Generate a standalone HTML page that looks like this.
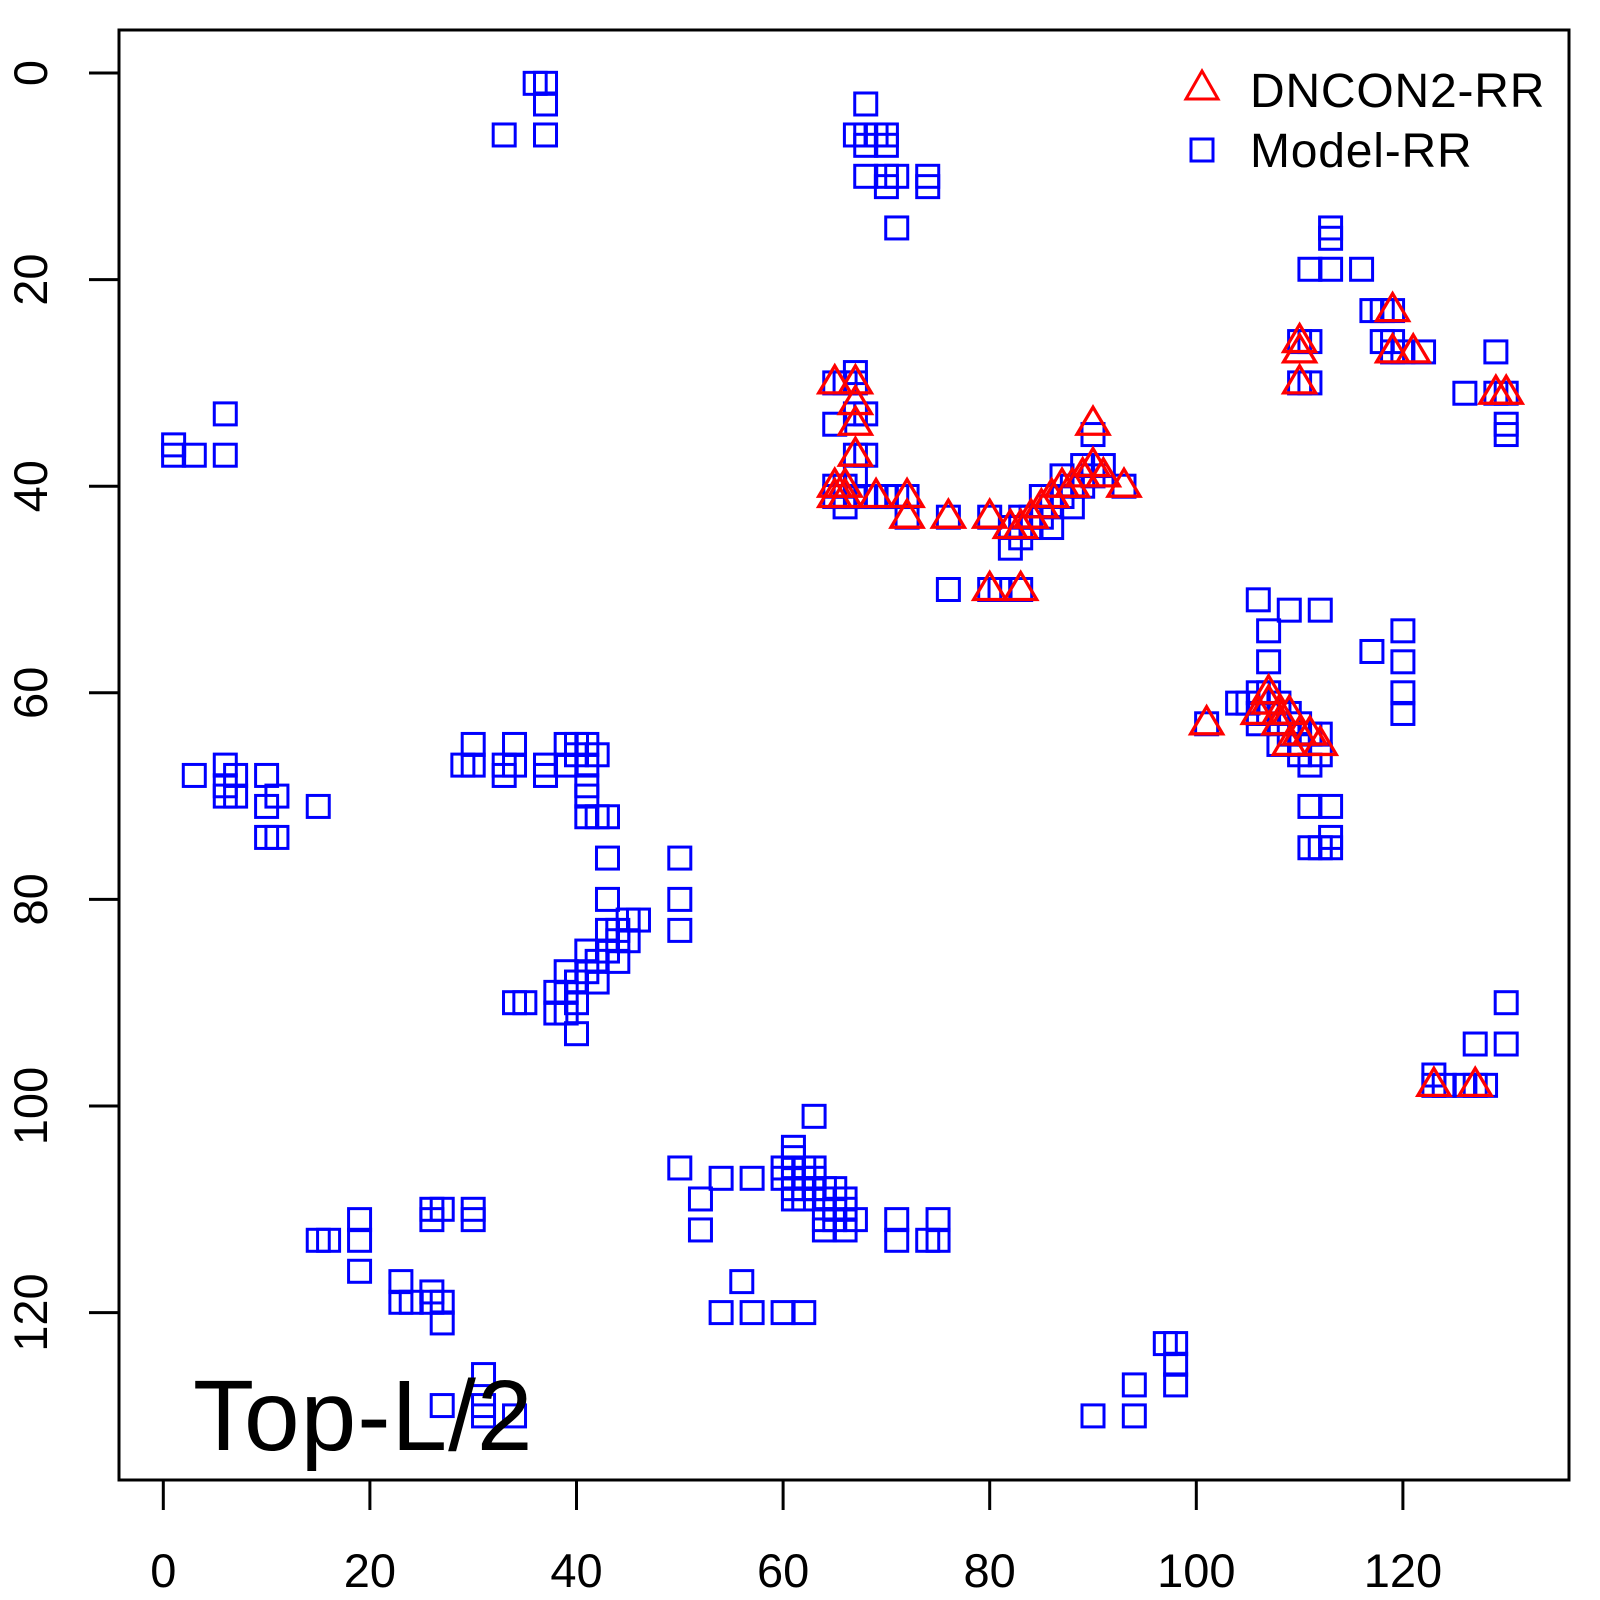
<!DOCTYPE html>
<html><head><style>body{margin:0;background:#fff}svg{display:block}</style></head>
<body>
<svg id="s" width="1600" height="1600" xmlns="http://www.w3.org/2000/svg" font-family="Liberation Sans, sans-serif">
<rect width="1600" height="1600" fill="#fff"/>
<rect x="119" y="30" width="1450" height="1450" fill="none" stroke="#000" stroke-width="3"/>
<g id="ax" stroke="#000" stroke-width="3"></g>
<g id="lab" font-size="47" fill="#000"></g>
<g id="sq" fill="none" stroke="#0000ff" stroke-width="3"></g>
<g id="tr" fill="none" stroke="#ff0000" stroke-width="3.3"></g>
<path d="M1202,71 L1218,99 L1186,99 Z" fill="none" stroke="#ff0000" stroke-width="3"/>
<rect x="1191" y="139" width="22" height="22" fill="none" stroke="#0000ff" stroke-width="3"/>
<text x="1250" y="107" font-size="48" letter-spacing="0.8">DNCON2-RR</text>
<text x="1250" y="167" font-size="48" letter-spacing="0.8">Model-RR</text>
<text x="193" y="1450" font-size="100" letter-spacing="1">Top-L/2</text>
</svg>
<script>
var NS="http://www.w3.org/2000/svg";
function X(d){return 163.3+10.33*d}function Y(d){return 73+10.33*d}
function el(p,t,a,txt){var e=document.createElementNS(NS,t);for(var k in a)e.setAttribute(k,a[k]);if(txt)e.textContent=txt;document.getElementById(p).appendChild(e);}
el("ax","line",{x1:X(0),y1:1480,x2:X(120),y2:1480});
el("ax","line",{x1:119,y1:Y(0),x2:119,y2:Y(120)});
for(var v=0;v<=120;v+=20){
el("ax","line",{x1:X(v),y1:1480,x2:X(v),y2:1510});
el("ax","line",{x1:89,y1:Y(v),x2:119,y2:Y(v)});
el("lab","text",{x:X(v),y:1587,"text-anchor":"middle"},String(v));
el("lab","text",{x:0,y:0,"text-anchor":"middle",transform:"translate(47,"+Y(v)+") rotate(-90)"},String(v));
}
var S=[[36,1],[37,1],[37,3],[33,6],[37,6],[68,3],[67,6],[68,6],[69,6],[70,6],[68,7],[70,7],[68,10],[70,10],[71,10],[70,11],[74,10],[74,11],[71,15],
[1,36],[1,37],[3,37],[6,33],[6,37],
[113,15],[113,16],[111,19],[113,19],[116,19],[117,23],[118,23],[119,23],[118,26],[119,26],[119,27],[120,27],[122,27],[110,26],[111,26],[110,30],[111,30],[129,27],[126,31],[129,31],[130,31],[130,34],[130,35],
[67,29],[65,30],[66,30],[67,30],[65,34],[67,33],[68,33],[67,37],[68,37],[67,39],[65,40],[66,40],[65,41],[66,41],[67,41],[68,41],[66,42],[69,41],[70,41],[71,41],[72,41],[72,43],
[76,43],[76,50],[80,43],[80,50],[81,50],[83,50],[82,44],[82,46],[83,43],[83,45],[84,44],[84,43],[85,41],[85,43],[86,42],[86,44],[87,39],[87,41],[88,40],[88,42],[89,38],[89,40],[90,35],[90,39],[91,38],[93,40],
[106,51],[107,54],[107,57],[109,52],[112,52],[117,56],[120,54],[120,57],[120,60],[120,62],[101,63],[104,61],[105,61],[106,60],[106,62],[106,63],[107,60],[107,62],[108,61],[108,63],[108,65],[109,62],[109,64],[110,63],[110,65],[110,66],[111,64],[111,67],[112,64],[112,66],[111,71],[113,71],[111,75],[112,75],[113,74],[113,75],
[3,68],[6,67],[6,69],[6,70],[7,68],[7,70],[10,68],[10,71],[11,70],[10,74],[11,74],[15,71],
[29,67],[30,65],[30,67],[33,67],[33,68],[34,65],[34,67],[37,67],[37,68],[39,65],[39,67],[40,65],[41,65],[40,66],[41,67],[42,66],[41,69],[41,70],[41,72],[42,72],[43,72],[43,76],[43,80],[43,83],[44,83],[45,82],[46,82],[44,84],[45,84],[43,85],[41,85],[42,86],[44,86],[41,87],[42,88],[39,87],[40,88],[39,89],[40,90],[38,89],[38,91],[40,93],[34,90],[35,90],[39,91],[50,76],[50,80],[50,83],
[63,101],[61,104],[61,105],[60,106],[60,107],[61,106],[62,106],[62,107],[63,106],[63,107],[61,108],[62,108],[63,108],[61,109],[62,109],[64,108],[64,109],[65,108],[65,110],[66,109],[65,111],[64,111],[64,112],[66,110],[66,112],[67,111],[71,111],[71,113],[74,113],[75,111],[75,113],[50,106],[52,109],[52,112],[54,107],[57,107],[56,117],[54,120],[57,120],[60,120],[62,120],
[15,113],[16,113],[19,111],[19,113],[19,116],[23,117],[23,119],[24,119],[26,110],[27,110],[26,111],[30,110],[30,111],[26,118],[26,119],[27,119],[27,121],[31,126],[31,129],[31,130],[34,130],[27,129],
[97,123],[98,123],[98,125],[98,127],[94,127],[90,130],[94,130],
[130,90],[127,94],[130,94],[123,97],[123,98],[124,98],[126,98],[127,98],[128,98]];
S.forEach(function(p){el("sq","rect",{x:X(p[0])-11,y:Y(p[1])-11,width:22,height:22});});
var T=[[65,30],[67,30],[67,32],[67,34],[67,37],[65,40],[66,40],[65,41],[66,41],[69,41],[72,41],[72,43],[76,43],[80,43],[80,50],[83,50],[82,44],[83,44],[84,43],[85,42],[86,41],[87,40],[88,40],[89,39],[90,38],[90,34],[91,39],[93,40],[110,26],[110,27],[110,30],[119,23],[119,27],[121,27],[129,31],[130,31],[101,63],[107,60],[107,61],[106,62],[108,62],[108,63],[109,62],[110,64],[111,64],[112,65],[109,65],[123,98],[127,98]];
T.forEach(function(p){var x=X(p[0]),y=Y(p[1]);el("tr","path",{d:"M"+x+","+(y-17)+" L"+(x+16)+","+(y+10)+" L"+(x-16)+","+(y+10)+" Z"});});
</script>
</body></html>
